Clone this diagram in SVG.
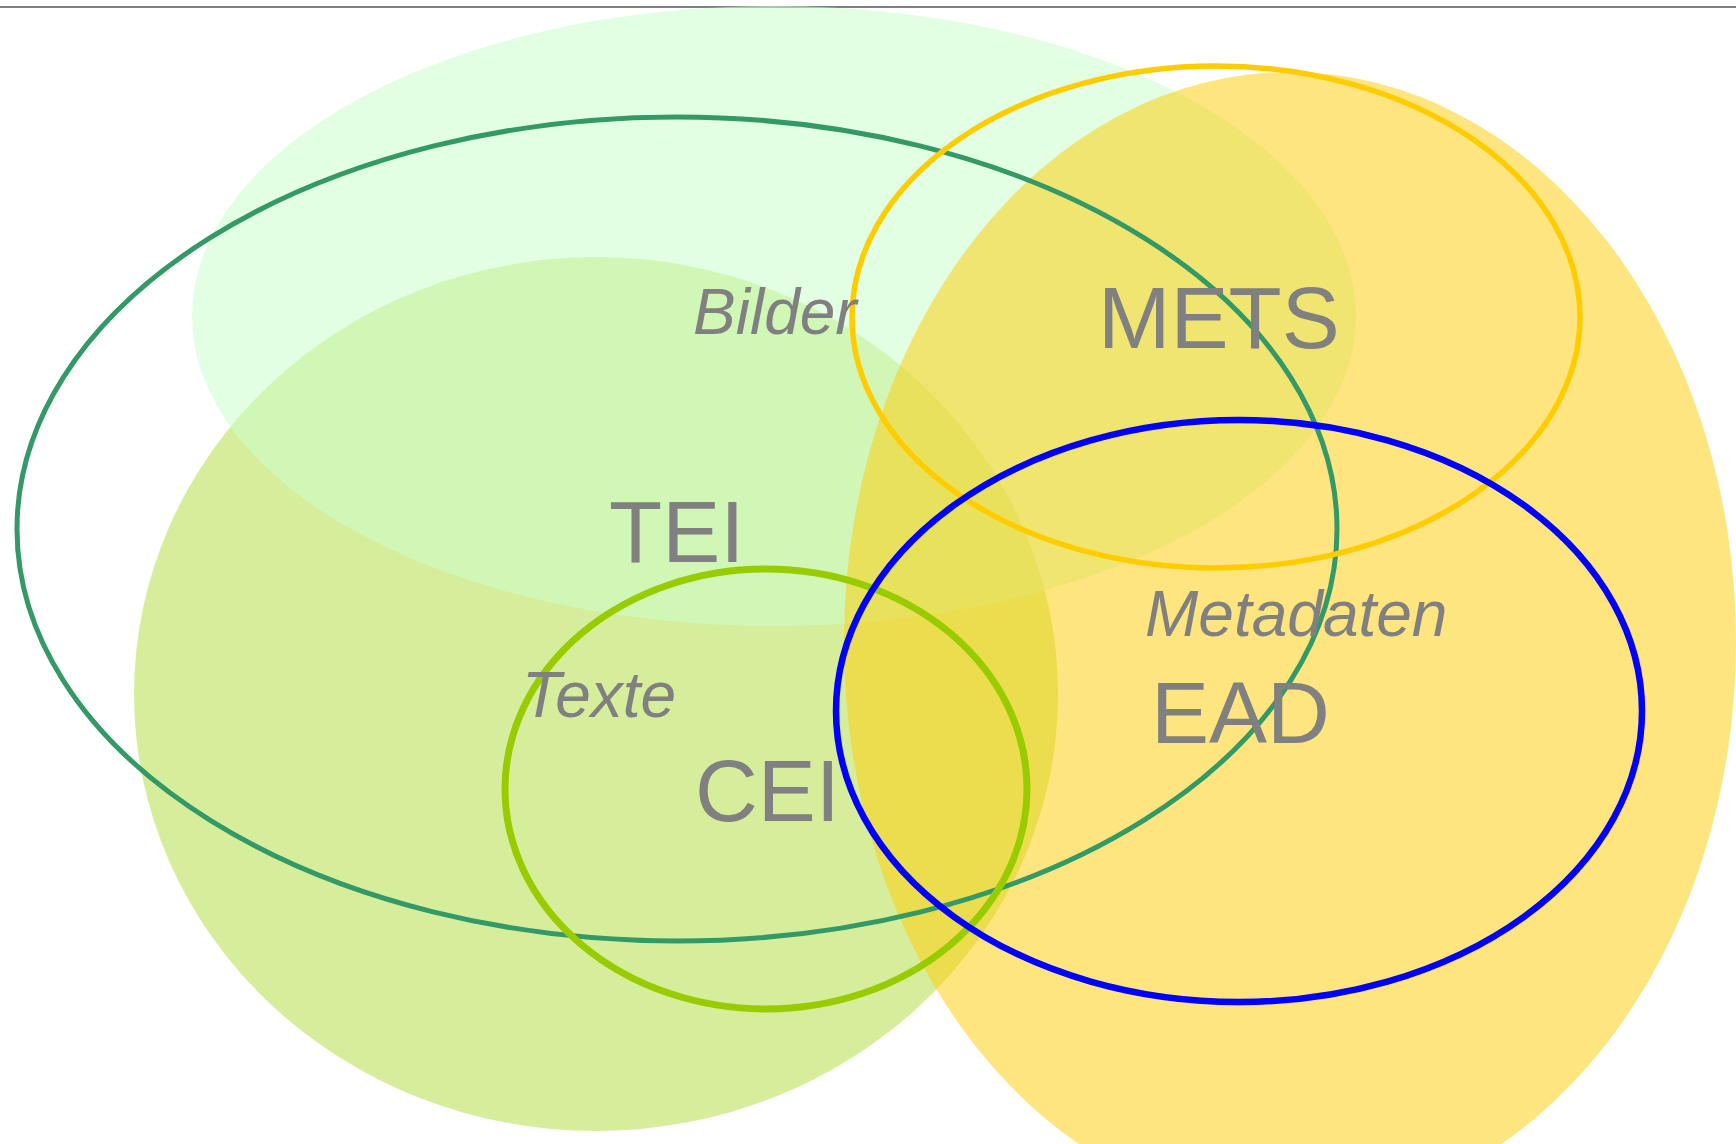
<svg xmlns="http://www.w3.org/2000/svg" width="1736" height="1144" viewBox="0 0 1736 1144">
<style>
.lbl{font-family:"Liberation Sans",Arial,sans-serif;fill:#808080;font-size:87px}
.it{font-family:"Liberation Sans",Arial,sans-serif;fill:#808080;font-size:64px;font-style:italic}
.ring{fill:none}
</style>
<rect x="0" y="0" width="1736" height="1144" fill="#ffffff"/>
<line x1="0" y1="7" x2="1736" y2="7" stroke="#808080" stroke-width="2"/>
<g id="areas">
<ellipse id="texte-area" cx="596" cy="694" rx="462" ry="437" fill="#b5e04a" fill-opacity="0.55"/>
<ellipse id="bilder-area" cx="774" cy="316" rx="582" ry="310" fill="#ccffcc" fill-opacity="0.55"/>
<ellipse id="metadaten-area" cx="1290" cy="642" rx="446" ry="570" fill="#ffcc00" fill-opacity="0.5"/>
</g>
<g id="rings">
<ellipse id="tei" class="ring" cx="677" cy="529" rx="660" ry="412" stroke="#339966" stroke-width="5"/>
<ellipse id="mets" class="ring" cx="1216" cy="317" rx="364" ry="251" stroke="#ffcc00" stroke-width="5.5"/>
<ellipse id="cei" class="ring" cx="766" cy="789" rx="261" ry="220" stroke="#99cc00" stroke-width="7"/>
<ellipse id="ead" class="ring" cx="1239" cy="711" rx="403" ry="291" stroke="#0000ff" stroke-width="6.5"/>
</g>
<g id="labels">
<text class="it" x="693" y="334">Bilder</text>
<text class="it" x="522" y="717">Texte</text>
<text class="it" x="1145" y="636">Metadaten</text>
<text class="lbl" x="1098" y="348">METS</text>
<text class="lbl" x="609" y="562">TEI</text>
<text class="lbl" x="695" y="821">CEI</text>
<text class="lbl" x="1151" y="743">EAD</text>
</g>
<g id="connectors"></g>
</svg>
